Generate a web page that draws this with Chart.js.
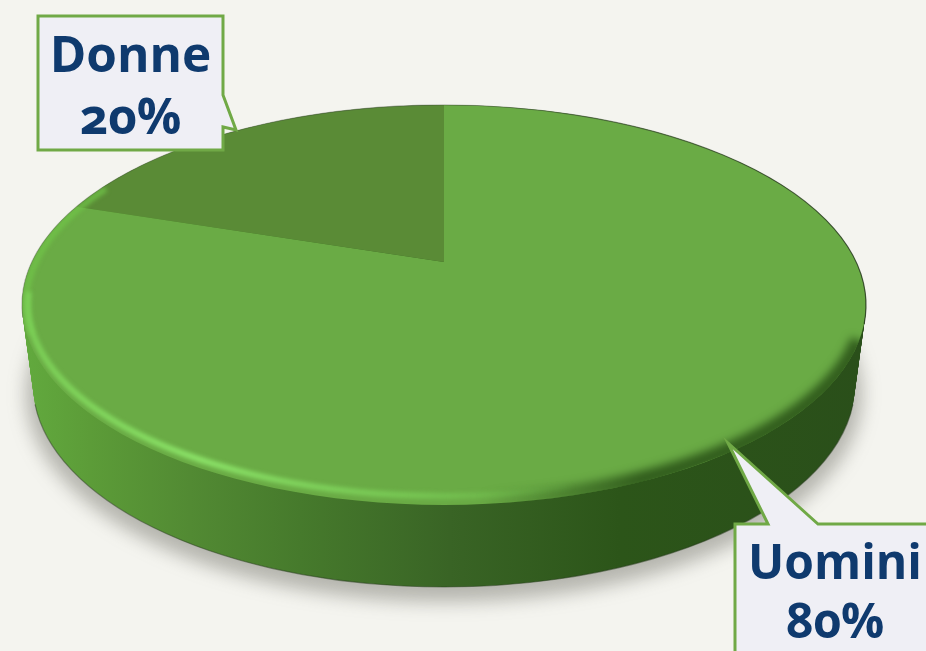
<!DOCTYPE html>
<html>
<head>
<meta charset="utf-8">
<script src="https://cdn.jsdelivr.net/npm/chart.js@4"></script>
<style>
  html, body { margin: 0; padding: 0; background: #f4f4ef; }
  #wrap { position: relative; width: 926px; height: 651px; overflow: hidden; }
  canvas { display: block; }
  .tag {
    position: absolute; text-align: center; color: #0f3a6e;
    font-family: "Open Sans", sans-serif; font-weight: 700;
    font-feature-settings: "onum" 1, "lnum" 0;
    white-space: nowrap;
  }
</style>
</head>
<body>
<div id="wrap">
  <canvas id="pie" width="926" height="651"></canvas>
  <div class="tag" id="tag0" style="left:735px; top:531px; width:200px; font-size:48px; line-height:59px;"></div>
  <div class="tag" id="tag1" style="left:38px; top:22px; width:185px; font-size:49.5px; line-height:62px;"></div>
</div>
<script>
const categories = ['Uomini', 'Donne'];
const shares = [80, 20];
const sliceColors = ['#6aab45', '#5a8b36'];

// Perspective of the disc: centre of the pie and how the unit circle lands on screen
const apexX = 444, apexY = 262;
const spreadX = 412, spreadY = 190.7, tilt = 0.215;

function project(angle) {
    const w = 1 - tilt * Math.sin(angle);
    return [apexX + spreadX * Math.cos(angle) / w, apexY + spreadY * Math.sin(angle) / w];
}

function hGradient(ctx, stops) {
    const g = ctx.createLinearGradient(22, 0, 866, 0);
    stops.forEach(s => g.addColorStop((s[0] - 22) / 844, s[1]));
    return g;
}

function drawBody(ctx) {
    // soft shadow on the ground
    ctx.save();
    ctx.filter = 'blur(9px)';
    ctx.fillStyle = 'rgba(95,95,85,0.42)';
    ctx.beginPath();
    ctx.ellipse(444, 394, 418, 208, 0, 0, Math.PI * 2);
    ctx.fill();
    ctx.restore();

    // side wall, stacked from the lower ellipse up to the top face
    ctx.fillStyle = hGradient(ctx, [
        [22, '#62aa3e'], [90, '#5c9c38'], [190, '#528a33'], [300, '#467a2c'],
        [450, '#396425'], [620, '#2c5519'], [866, '#2a4f1a']
    ]);
    for (let i = 0; i <= 40; i++) {
        const t = i / 40;
        ctx.beginPath();
        ctx.ellipse(444, 384 - 79 * t, 411 + 11 * t, 203 - 3 * t, 0, 0, Math.PI * 2);
        ctx.fill();
    }
    ctx.strokeStyle = 'rgba(40,60,30,0.5)';
    ctx.lineWidth = 1.2;
    ctx.beginPath();
    ctx.ellipse(444, 384, 411, 203, 0, 0.1, Math.PI - 0.1);
    ctx.stroke();
}

function drawRim(ctx) {
    // thin dark line round the far edge of the top face
    ctx.strokeStyle = hGradient(ctx, [[22, 'rgba(70,85,60,0.4)'], [444, 'rgba(60,75,50,0.45)'], [866, 'rgba(45,65,35,0.85)']]);
    ctx.lineWidth = 1.2;
    ctx.beginPath();
    ctx.ellipse(444, 305, 422, 200, 0, Math.PI * 0.98, Math.PI * 2.03);
    ctx.stroke();

    ctx.save();
    // keep the blurred strokes inside the top face
    ctx.beginPath();
    ctx.ellipse(444, 305, 422, 200, 0, 0, Math.PI * 2);
    ctx.clip();

    // shade where the top face turns into the dark wall
    ctx.filter = 'blur(4px)';
    ctx.strokeStyle = hGradient(ctx, [[480, 'rgba(44,85,25,0)'], [640, 'rgba(44,85,25,0.9)'], [866, 'rgba(44,85,25,0.9)']]);
    ctx.lineWidth = 16;
    ctx.beginPath();
    ctx.ellipse(444, 303, 422, 199, 0, Math.PI * 0.06, Math.PI * 0.6);
    ctx.stroke();

    // lighter band on the upper left
    ctx.filter = 'blur(2px)';
    ctx.strokeStyle = 'rgba(112,196,72,0.8)';
    ctx.lineWidth = 6;
    ctx.beginPath();
    ctx.ellipse(444, 304, 418, 196, 0, Math.PI * 0.95, Math.PI * 1.2);
    ctx.stroke();

    // bright bevel on the lit side
    ctx.strokeStyle = hGradient(ctx, [
        [22, 'rgba(125,210,88,0.9)'], [200, 'rgba(140,228,105,1)'], [420, 'rgba(125,212,90,0.65)'], [580, 'rgba(120,205,85,0)']
    ]);
    ctx.lineWidth = 6;
    ctx.beginPath();
    ctx.ellipse(444, 304, 416, 192, 0, Math.PI * 0.4, Math.PI * 1.02);
    ctx.stroke();
    ctx.restore();
}

function drawCallout(ctx, pts) {
    ctx.beginPath();
    pts.forEach((p, i) => i ? ctx.lineTo(p[0], p[1]) : ctx.moveTo(p[0], p[1]));
    ctx.closePath();
    ctx.fillStyle = '#efeff5';
    ctx.fill();
    ctx.strokeStyle = '#70a946';
    ctx.lineWidth = 3;
    ctx.lineJoin = 'miter';
    ctx.stroke();
}

const pie3d = {
    id: 'pie3d',
    beforeDatasetsDraw(chart) {
        const ctx = chart.ctx;
        drawBody(ctx);
        // top face, one path per arc of the doughnut controller
        chart.getDatasetMeta(0).data.forEach((arc, i) => {
            ctx.beginPath();
            ctx.moveTo(apexX, apexY);
            const n = 120;
            for (let s = 0; s <= n; s++) {
                const p = project(arc.startAngle + (arc.endAngle - arc.startAngle) * s / n);
                ctx.lineTo(p[0], p[1]);
            }
            ctx.closePath();
            ctx.fillStyle = arc.options.backgroundColor;
            ctx.fill();
        });
        drawRim(ctx);
        return false;
    },
    afterDraw(chart) {
        const ctx = chart.ctx;
        drawCallout(ctx, [[38, 16], [223, 16], [223, 95], [236, 130], [223, 127], [223, 150], [38, 150]]);
        drawCallout(ctx, [[735, 524], [768, 524], [728, 443], [818, 524], [940, 524], [940, 670], [735, 670]]);
    }
};

new Chart(document.getElementById('pie'), {
    type: 'pie',
    data: {
        labels: categories,
        datasets: [{ data: shares, backgroundColor: sliceColors, borderWidth: 0 }]
    },
    options: {
        responsive: false,
        animation: false,
        events: [],
        plugins: { legend: { display: false }, tooltip: { enabled: false } }
    },
    plugins: [pie3d]
});

categories.forEach((name, i) => {
    document.getElementById('tag' + i).innerHTML = name + '<br>' + shares[i] + '%';
});
</script>
</body>
</html>
